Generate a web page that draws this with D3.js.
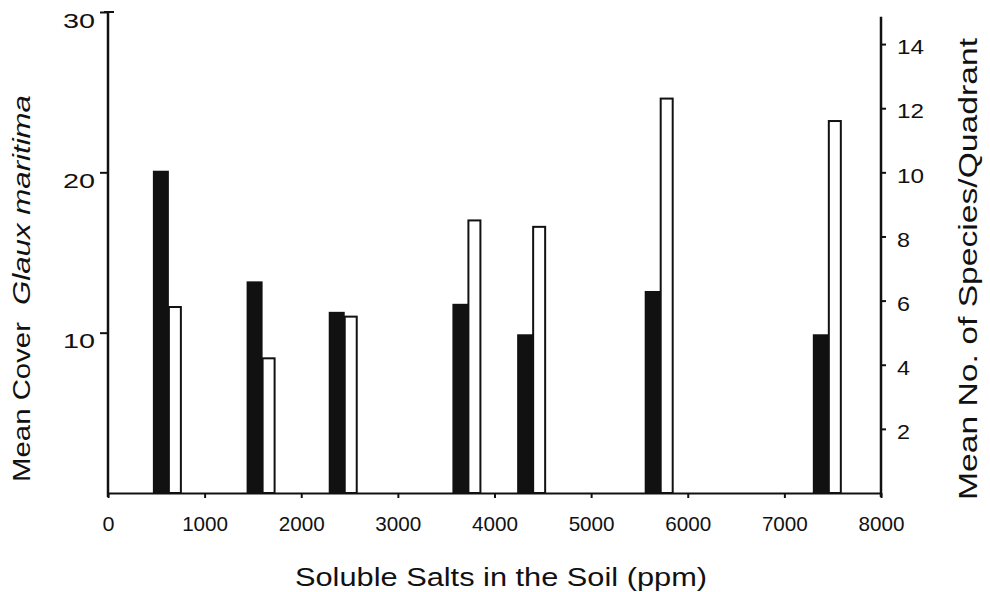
<!DOCTYPE html>
<html>
<head>
<meta charset="utf-8">
<script src="https://cdn.jsdelivr.net/npm/d3@7"></script>
<style>
  html, body { margin: 0; padding: 0; background: #fff; }
  svg { display: block; font-family: "Liberation Sans", Arial, Helvetica, sans-serif; }
</style>
</head>
<body>
<svg id="chart" width="990" height="592"></svg>
<script>
// ---- data ----
const salts = [630, 1600, 2450, 3730, 4400, 5720, 7460];          // soluble salts (ppm)
const glauxCover = [20.1, 13.2, 11.3, 11.8, 9.9, 12.6, 9.9];       // mean cover of Glaux maritima (left axis, black bars)
const speciesCount = [5.8, 4.2, 5.5, 8.5, 8.3, 12.3, 11.6];       // mean no. of species/quadrant (right axis, open bars)
const xTicks = [0, 1000, 2000, 3000, 4000, 5000, 6000, 7000, 8000];
const leftTicks = [10, 20, 30];
const rightTicks = [2, 4, 6, 8, 10, 12, 14];

const svg = d3.select("#chart");
const ink = "#111";
const FONT = '"Liberation Sans", Arial, Helvetica, sans-serif';

const x = d3.scaleLinear().domain([0, 8000]).range([108, 881]);
const yL = d3.scaleLinear().domain([0, 30]).range([493, 12]);
const yR = d3.scaleLinear().domain([0, 15]).range([493, 12]);

const blackW = 16, whiteW = 12;

// open bars (species)
svg.append("g").selectAll("rect")
  .data(salts)
  .join("rect")
  .attr("x", d => x(d))
  .attr("width", whiteW)
  .attr("y", (d, i) => yR(speciesCount[i]))
  .attr("height", (d, i) => yR(0) - yR(speciesCount[i]))
  .attr("fill", "#fff")
  .attr("stroke", ink)
  .attr("stroke-width", 2);

// black bars (cover)
svg.append("g").selectAll("rect")
  .data(salts)
  .join("rect")
  .attr("x", d => x(d) - blackW)
  .attr("width", blackW)
  .attr("y", (d, i) => yL(glauxCover[i]))
  .attr("height", (d, i) => yL(0) - yL(glauxCover[i]))
  .attr("fill", ink);

// x axis
const gx = svg.append("g")
  .attr("transform", `translate(0,${yL(0)})`)
  .call(d3.axisBottom(x).tickValues(xTicks).tickSize(5).tickSizeOuter(0).tickFormat(d3.format("d")))
  .attr("font-family", FONT);
gx.select(".domain").attr("stroke", ink).attr("stroke-width", 2);
gx.selectAll(".tick line").attr("stroke", ink).attr("stroke-width", 2);
gx.selectAll(".tick text")
  .attr("y", 38).attr("dy", null)
  .attr("fill", ink)
  .attr("textLength", d => d === 0 ? 12 : 46).attr("lengthAdjust", "spacingAndGlyphs")
  .style("font-size", "21px");

// left axis
const gl = svg.append("g")
  .attr("transform", `translate(${x(0)},0)`)
  .call(d3.axisLeft(yL).tickValues(leftTicks).tickSize(8).tickSizeOuter(0).tickFormat(d3.format("d")))
  .attr("font-family", FONT);
gl.select(".domain").attr("stroke", ink).attr("stroke-width", 2.5)
  .attr("d", `M0,${yL(30)}V${yL(0) + 4}`);
gl.selectAll(".tick line").attr("stroke", ink).attr("stroke-width", 2);
gl.selectAll(".tick text")
  .attr("x", -13).attr("y", 15).attr("dy", null)
  .attr("fill", ink)
  .attr("textLength", 32).attr("lengthAdjust", "spacingAndGlyphs")
  .style("font-size", "21px");
// small cap at the top of the left axis
gl.append("line")
  .attr("x1", -4).attr("x2", 6)
  .attr("y1", yL(30)).attr("y2", yL(30))
  .attr("stroke", ink).attr("stroke-width", 2);

// right axis
const gr = svg.append("g")
  .attr("transform", `translate(${x(8000)},0)`)
  .call(d3.axisRight(yR).tickValues(rightTicks).tickSize(5).tickSizeOuter(0).tickPadding(11).tickFormat(d3.format("d")))
  .attr("font-family", FONT);
gr.select(".domain").attr("stroke", ink).attr("stroke-width", 2.5)
  .attr("d", `M0,${yR(14.85)}V${yR(0) + 4}`);
gr.selectAll(".tick line").attr("stroke", ink).attr("stroke-width", 2);
gr.selectAll(".tick text")
  .attr("y", 3)
  .attr("fill", ink)
  .attr("textLength", d => d >= 10 ? 27 : 13).attr("lengthAdjust", "spacingAndGlyphs")
  .style("font-size", "21px");

// axis titles
svg.append("text")
  .attr("x", 501).attr("y", 586)
  .attr("text-anchor", "middle")
  .attr("textLength", 412).attr("lengthAdjust", "spacingAndGlyphs")
  .style("font-size", "25px").attr("fill", ink)
  .text("Soluble Salts in the Soil (ppm)");

const leftTitle = svg.append("g").attr("transform", "translate(30,0) rotate(-90)");
leftTitle.append("text")
  .attr("x", -482).attr("y", 0)
  .attr("text-anchor", "start")
  .attr("textLength", 160).attr("lengthAdjust", "spacingAndGlyphs")
  .style("font-size", "24px").attr("fill", ink)
  .text("Mean Cover");
leftTitle.append("text")
  .attr("x", -305).attr("y", 0)
  .attr("text-anchor", "start")
  .attr("textLength", 210).attr("lengthAdjust", "spacingAndGlyphs")
  .style("font-size", "24px").style("font-style", "italic").attr("fill", ink)
  .text("Glaux maritima");

svg.append("text")
  .attr("transform", "translate(977,0) rotate(-90)")
  .attr("x", -500).attr("y", 0)
  .attr("text-anchor", "start")
  .attr("textLength", 462).attr("lengthAdjust", "spacingAndGlyphs")
  .style("font-size", "26px").attr("fill", ink)
  .text("Mean No. of Species/Quadrant");
</script>
</body>
</html>
